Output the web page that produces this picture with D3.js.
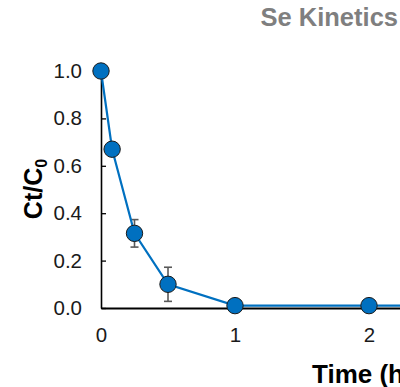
<!DOCTYPE html>
<html>
<head>
<meta charset="utf-8">
<script src="https://cdn.jsdelivr.net/npm/d3@7"></script>
<style>
  body { margin: 0; background: #fff; }
  svg { display: block; font-family: "Liberation Sans", Arial, sans-serif; }
</style>
</head>
<body>
<svg></svg>
<script>
const WIDTH = 400;
const HEIGHT = 387;

// data (time in hours, normalised concentration, std dev)
const times = [0, 0.083, 0.25, 0.5, 1, 2, 4];
const ratios = [1.0, 0.67, 0.315, 0.10, 0.01, 0.01, 0.01];
const errors = [0, 0.02, 0.058, 0.072, 0, 0, 0];
const yTicks = [0, 0.2, 0.4, 0.6, 0.8, 1.0];
const xTicks = [0, 1, 2];

const BLUE = "#0070C0";

let svg = d3.select("svg")
    .attr("width", WIDTH)
    .attr("height", HEIGHT);

let x = d3.scaleLinear().domain([0, 4]).range([101, 637]);
let y = d3.scaleLinear().domain([0, 1]).range([308, 71]);

let points = times.map((t, i) => ({ t: t, v: ratios[i], e: errors[i] }));

// y axis, ticks pointing inward
let yAxis = svg.append("g")
    .attr("transform", `translate(${x(0)},0)`)
    .call(d3.axisLeft(y).tickValues(yTicks).tickFormat(d3.format(".1f"))
        .tickSize(-5).tickSizeOuter(0).tickPadding(19));
yAxis.select(".domain").attr("stroke", "#000").attr("stroke-width", 1.6);
yAxis.selectAll(".tick line").attr("stroke", "#000").attr("stroke-width", 1.3);
yAxis.selectAll("text").attr("font-size", 20.5).attr("fill", "#1a1a1a")
    .attr("font-family", "Liberation Sans, Arial, sans-serif");

// x axis
let xAxis = svg.append("g")
    .attr("transform", `translate(0,${y(0)})`)
    .call(d3.axisBottom(x).tickValues(xTicks).tickFormat(d3.format("d"))
        .tickSize(0).tickPadding(19));
xAxis.select(".domain").attr("stroke", "#000").attr("stroke-width", 2.2);
xAxis.selectAll("text").attr("font-size", 20.5).attr("fill", "#1a1a1a")
    .attr("font-family", "Liberation Sans, Arial, sans-serif");

// error bars
let eb = svg.append("g")
    .attr("stroke", "#595959")
    .attr("stroke-width", 1.6)
    .selectAll("g")
    .data(points.filter(d => d.e > 0))
    .join("g");
eb.append("line")
    .attr("x1", d => x(d.t)).attr("x2", d => x(d.t))
    .attr("y1", d => y(d.v - d.e)).attr("y2", d => y(d.v + d.e));
eb.append("line")
    .attr("x1", d => x(d.t) - 4).attr("x2", d => x(d.t) + 4)
    .attr("y1", d => y(d.v + d.e)).attr("y2", d => y(d.v + d.e));
eb.append("line")
    .attr("x1", d => x(d.t) - 4).attr("x2", d => x(d.t) + 4)
    .attr("y1", d => y(d.v - d.e)).attr("y2", d => y(d.v - d.e));

// line
let line = d3.line()
    .x(d => x(d.t))
    .y(d => y(d.v));

svg.append("path")
    .datum(points)
    .attr("d", line)
    .attr("fill", "none")
    .attr("stroke", BLUE)
    .attr("stroke-width", 2.2);

// markers
svg.append("g")
    .selectAll("circle")
    .data(points)
    .join("circle")
    .attr("cx", d => x(d.t))
    .attr("cy", d => y(d.v))
    .attr("r", 8.2)
    .attr("fill", BLUE)
    .attr("stroke", "#1a1a1a")
    .attr("stroke-width", 1);

// title
svg.append("text")
    .attr("x", 398)
    .attr("y", 26)
    .attr("text-anchor", "end")
    .attr("font-size", 25.5)
    .attr("font-weight", "bold")
    .attr("fill", "#7f7f7f")
    .text("Se Kinetics");

// y label
let yl = svg.append("text")
    .attr("transform", "translate(42,189) rotate(-90)")
    .attr("text-anchor", "middle")
    .attr("font-size", 25)
    .attr("font-weight", "bold")
    .attr("fill", "#000");
yl.append("tspan").text("Ct/C");
yl.append("tspan").attr("font-size", 16).attr("dy", 5).text("0");

// x label
svg.append("text")
    .attr("x", 312)
    .attr("y", 383)
    .attr("font-size", 26)
    .attr("font-weight", "bold")
    .attr("fill", "#000")
    .text("Time (h)");
</script>
</body>
</html>
